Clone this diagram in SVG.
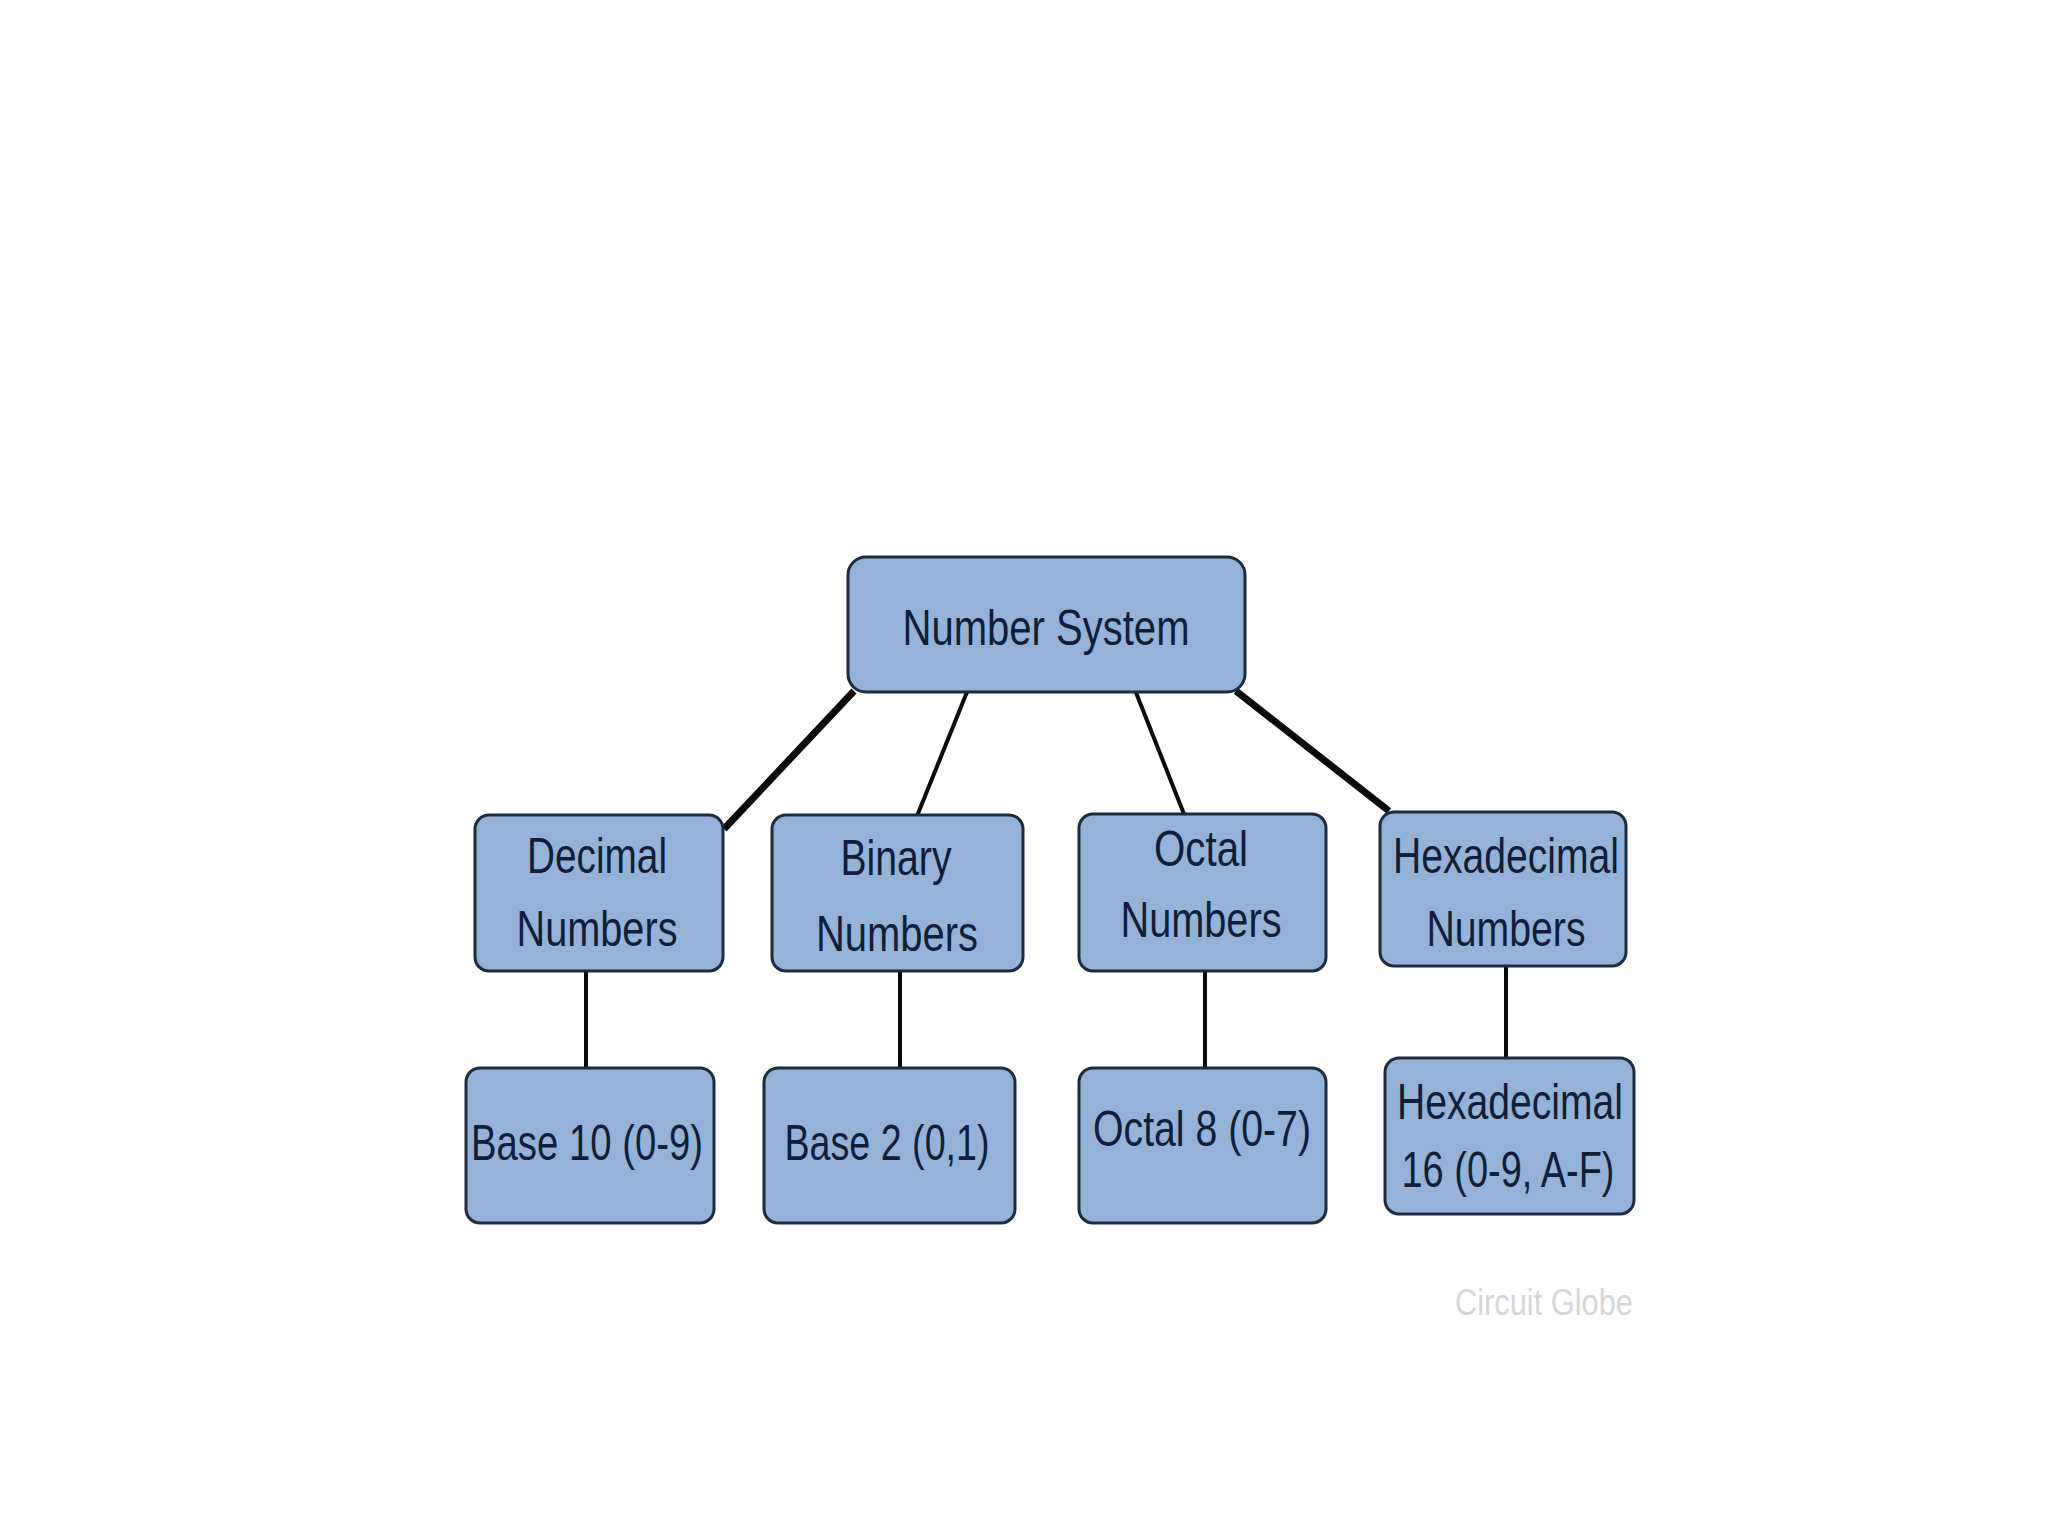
<svg xmlns="http://www.w3.org/2000/svg" width="2048" height="1536" viewBox="0 0 2048 1536">
<style>
.box{fill:#95b3d7;stroke:#1c2b40;stroke-width:3}
.t{font-family:"Liberation Sans",Arial,sans-serif;fill:#0f1f3a;text-anchor:middle;font-size:50px}
.thick{stroke:#0a0a0a;stroke-width:7;fill:none}
.thin{stroke:#0a0a0a;stroke-width:4;fill:none}
</style>
<rect width="2048" height="1536" fill="#ffffff"/>
<g id="connectors">
<line class="thick" x1="854" y1="691" x2="724" y2="829"/>
<line class="thin" x1="967" y1="692" x2="917" y2="816"/>
<line class="thin" x1="1135" y1="690" x2="1184" y2="814"/>
<line class="thick" x1="1236" y1="691" x2="1389" y2="811"/>
<line class="thin" x1="586" y1="971" x2="586" y2="1068"/>
<line class="thin" x1="900" y1="971" x2="900" y2="1068"/>
<line class="thin" x1="1205" y1="971" x2="1205" y2="1068"/>
<line class="thin" x1="1506" y1="966" x2="1506" y2="1058"/>
</g>
<g id="root">
<rect class="box" x="848" y="557" width="397" height="135" rx="18"/>
<text class="t" x="1046" y="645" font-size="56" textLength="287" lengthAdjust="spacingAndGlyphs">Number System</text>
</g>
<g id="decimal">
<rect class="box" x="475" y="815" width="248" height="156" rx="14"/>
<text class="t" x="597" y="873" textLength="140" lengthAdjust="spacingAndGlyphs">Decimal</text>
<text class="t" x="597" y="946" textLength="161" lengthAdjust="spacingAndGlyphs">Numbers</text>
</g>
<g id="binary">
<rect class="box" x="772" y="815" width="251" height="156" rx="14"/>
<text class="t" x="896" y="875" textLength="111" lengthAdjust="spacingAndGlyphs">Binary</text>
<text class="t" x="897" y="951" textLength="162" lengthAdjust="spacingAndGlyphs">Numbers</text>
</g>
<g id="octal">
<rect class="box" x="1079" y="814" width="247" height="157" rx="14"/>
<text class="t" x="1201" y="866" textLength="94" lengthAdjust="spacingAndGlyphs">Octal</text>
<text class="t" x="1201" y="937" textLength="161" lengthAdjust="spacingAndGlyphs">Numbers</text>
</g>
<g id="hexadecimal">
<rect class="box" x="1380" y="812" width="246" height="154" rx="14"/>
<text class="t" x="1506" y="873" textLength="226" lengthAdjust="spacingAndGlyphs">Hexadecimal</text>
<text class="t" x="1506" y="946" textLength="159" lengthAdjust="spacingAndGlyphs">Numbers</text>
</g>
<g id="base10">
<rect class="box" x="466" y="1068" width="248" height="155" rx="14"/>
<text class="t" x="587" y="1160" textLength="232" lengthAdjust="spacingAndGlyphs">Base 10 (0-9)</text>
</g>
<g id="base2">
<rect class="box" x="764" y="1068" width="251" height="155" rx="14"/>
<text class="t" x="887" y="1160" textLength="205" lengthAdjust="spacingAndGlyphs">Base 2 (0,1)</text>
</g>
<g id="octal8">
<rect class="box" x="1079" y="1068" width="247" height="155" rx="14"/>
<text class="t" x="1202" y="1146" textLength="218" lengthAdjust="spacingAndGlyphs">Octal 8 (0-7)</text>
</g>
<g id="hex16">
<rect class="box" x="1385" y="1058" width="249" height="156" rx="14"/>
<text class="t" x="1510" y="1119" textLength="226" lengthAdjust="spacingAndGlyphs">Hexadecimal</text>
<text class="t" x="1508" y="1187" textLength="213" lengthAdjust="spacingAndGlyphs">16 (0-9, A-F)</text>
</g>
<text x="1544" y="1315" font-family="Liberation Sans, Arial, sans-serif" font-size="37" fill="#d6d6d6" text-anchor="middle" textLength="178" lengthAdjust="spacingAndGlyphs">Circuit Globe</text>
</svg>
